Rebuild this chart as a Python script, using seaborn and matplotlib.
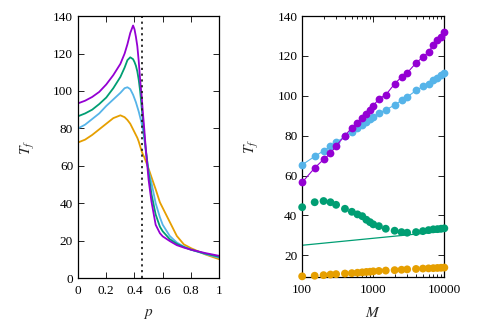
import numpy as np
import pandas as pd
import seaborn as sns
import matplotlib
matplotlib.use('Agg')
import matplotlib.pyplot as plt
from matplotlib.ticker import NullFormatter, LogLocator

# left panel: T_f vs p
p = [0, 0.05, 0.1, 0.15, 0.2, 0.25, 0.3, 0.33, 0.35, 0.37, 0.39, 0.4, 0.41, 0.42,
     0.43, 0.44, 0.45, 0.46, 0.47, 0.48, 0.5, 0.52, 0.55, 0.58, 0.6, 0.65, 0.7,
     0.75, 0.8, 0.9, 1.0]
tf_purple = [93.4, 94.8, 96.8, 99.5, 103.5, 108.5, 114.5, 120, 125, 131, 135, 133,
             129, 124, 116, 106, 98, 88, 79, 69, 52.5, 41, 28.5, 24, 22.3, 19.8,
             17.6, 16.3, 15.2, 13.4, 11.9]
tf_green = [86.5, 88, 90, 93, 96.5, 101.5, 107.5, 112.5, 116.5, 118, 117, 115.5,
            113.5, 110.5, 106, 100, 92, 84, 76, 69, 56, 45, 34, 27.5, 25, 20.8,
            18.3, 16.6, 15.2, 13.1, 11.4]
tf_blue = [80, 82, 85, 88, 92, 95.5, 99, 101.5, 102, 101, 98, 96, 94, 91.5, 89, 86,
           83, 79, 74, 68, 57, 51, 40, 32.5, 28.5, 22.5, 19, 16.8, 15.2, 12.9, 10.9]
tf_orange = [72.5, 74, 76.5, 79.5, 82.5, 85.5, 87, 86, 84.5, 82.5, 79.5, 78, 76.5,
             75, 73, 70.5, 68, 66, 64.5, 62.5, 58.5, 54, 47.5, 40.5, 37.5, 30,
             22.5, 18, 16, 12.7, 10.1]
p_c = 0.455

# right panel: T_f vs M
M = [100, 150, 200, 250, 300, 400, 500, 600, 700, 800, 900, 1000, 1200, 1500,
     2000, 2500, 3000, 4000, 5000, 6000, 7000, 8000, 9000, 10000]
m_purple = [56.6, 63.8, 68.1, 71.1, 74.9, 80, 84, 86.5, 89, 91, 93, 95, 98.5, 100.5,
            106, 109.5, 111.5, 116.5, 119.5, 122, 125.5, 128, 129.5, 132]
m_blue = [65.4, 69.6, 72.4, 74.6, 76.6, 79.6, 82, 84, 85.5, 87, 88.4, 89.5, 91.4,
          92.9, 95.4, 97.7, 99.4, 102.7, 104.7, 105.9, 107.9, 109, 110.3, 111.3]
m_green = [44.1, 46.6, 47.2, 46.6, 45.3, 43.3, 41.8, 40.5, 39.6, 37.8, 36.6, 35.5,
           34.6, 33.3, 32.3, 31.6, 31.3, 31.6, 32.1, 32.6, 33, 33.1, 33.3, 33.5]
m_orange = [9.4, 9.7, 10.0, 10.3, 10.5, 10.8, 11.0, 11.2, 11.4, 11.6, 11.7, 11.9,
            12.1, 12.3, 12.5, 12.7, 12.9, 13.1, 13.3, 13.4, 13.5, 13.6, 13.7, 13.8]
fit_M = [100, 10000]
fit_green = [25, 32]

colors = {'purple': '#9400D3', 'green': '#009E73', 'blue': '#56B4E9', 'orange': '#E69F00'}

sns.set_style('ticks')
plt.rcParams['font.family'] = ['Liberation Serif', 'DejaVu Serif']
plt.rcParams['mathtext.fontset'] = 'stix'
plt.rcParams['axes.linewidth'] = 0.9

fig = plt.figure(figsize=(4.97, 3.23), dpi=100)
ax1 = fig.add_axes([0.157, 0.139, 0.284, 0.811])
ax2 = fig.add_axes([0.608, 0.142, 0.286, 0.808])

left = pd.DataFrame({'p': p, 'purple': tf_purple, 'green': tf_green,
                     'blue': tf_blue, 'orange': tf_orange})
for c in ['orange', 'blue', 'green', 'purple']:
    sns.lineplot(data=left, x='p', y=c, color=colors[c], lw=1.3, ax=ax1)
ax1.axvline(p_c, color='#222222', ls=(0, (1.2, 2.0)), lw=1.3)
ax1.set_xlim(0, 1)
ax1.set_ylim(0, 140)
ax1.set_xticks([0, 0.2, 0.4, 0.6, 0.8, 1])
ax1.set_xticklabels(['0', '0.2', '0.4', '0.6', '0.8', '1'])
ax1.set_yticks(range(0, 141, 20))
ax1.set_xlabel('$p$', fontsize=11, labelpad=7)
ax1.set_ylabel('$T_f$', fontsize=11, labelpad=12)

right = pd.DataFrame({'M': M, 'purple': m_purple, 'blue': m_blue,
                      'green': m_green, 'orange': m_orange})
ax2.plot(fit_M, fit_green, color=colors['green'], lw=0.9)
for c in ['orange', 'green']:
    sns.scatterplot(data=right, x='M', y=c, color=colors[c], s=32,
                    edgecolor='none', ax=ax2, clip_on=False, zorder=3)
for c in ['blue', 'purple']:
    sns.lineplot(data=right, x='M', y=c, color=colors[c], lw=0.8, marker='o',
                 markersize=5.6, markeredgewidth=0, ax=ax2, clip_on=False, zorder=3)
ax2.set_xscale('log')
ax2.set_xlim(100, 10000)
ax2.set_ylim(9, 140)
ax2.set_xticks([100, 1000, 10000])
ax2.set_xticklabels(['100', '1000', '10000'])
ax2.xaxis.set_minor_locator(LogLocator(base=10, subs=np.arange(2, 10)))
ax2.xaxis.set_minor_formatter(NullFormatter())
ax2.set_yticks(range(20, 141, 20))
ax2.set_xlabel('$M$', fontsize=11, labelpad=7)
ax2.set_ylabel('$T_f$', fontsize=11, labelpad=12)

for ax in (ax1, ax2):
    ax.tick_params(which='both', direction='in', top=True, right=True,
                   labelsize=9.5, width=0.7, colors='#222222', labelcolor='black')
    ax.tick_params(which='major', length=4)
    ax.tick_params(which='minor', length=2)
    ax.tick_params(axis='x', pad=5)
    for s in ax.spines.values():
        s.set_color('black')

fig.savefig('out.png', dpi=100)
